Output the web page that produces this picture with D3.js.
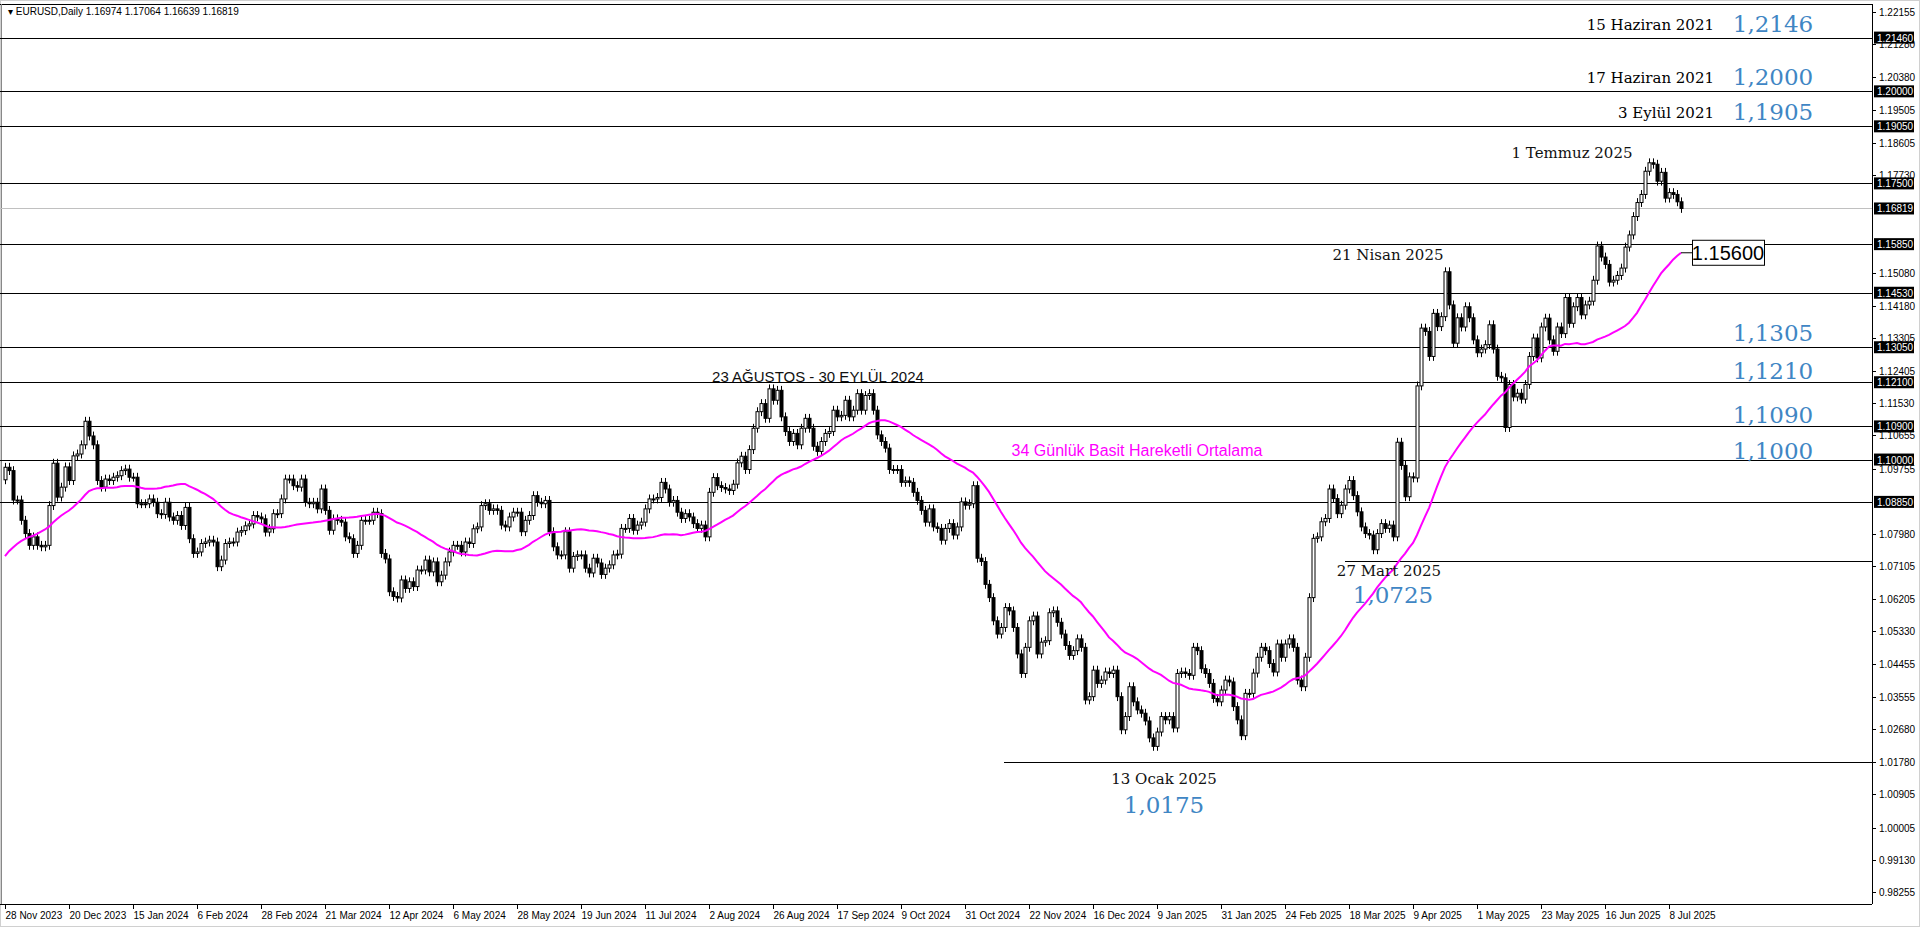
<!DOCTYPE html>
<html lang="tr">
<head>
<meta charset="utf-8">
<style>
  html, body { margin: 0; padding: 0; background: #fff; }
  svg { display: block; }
</style>
</head>
<body>
<svg id="chart" width="1920" height="927"></svg>
<script src="https://d3js.org/d3.v7.min.js"></script>
<script>
// daily closes (28 Nov 2023 .. 11 Jul 2025)
const closes2023_24a = [
  1.0979,1.0970,1.0890,1.0890,1.0835,1.0799,1.0767,1.0790,1.0767,1.0763,1.0767,1.0875,1.0990,1.0898,1.0925,1.0980,
  1.0943,1.1010,1.1015,1.1040,1.1104,1.1064,1.1040,1.0943,1.0925,1.0947,1.0943,1.0952,1.0956,1.0970,1.0974,1.0952,
  1.0952,1.0880,1.0880,1.0880,1.0893,1.0884,1.0853,1.0851,1.0884,1.0844,1.0835,1.0848,1.0821,1.0870,1.0785,1.0745,
  1.0749,1.0772,1.0776,1.0781,1.0776,1.0709,1.0727,1.0772,1.0776,1.0776,1.0803,1.0807,1.0820,1.0825,1.0848,1.0844,
  1.0839,1.0803,1.0812,1.0853,1.0853,1.0893,1.0947,1.0947,1.0929,1.0925,1.0947,1.0884,1.0880,1.0884,1.0866,1.0920,
  1.0862,1.0808,1.0839,1.0835,1.0830,1.0790,1.0785,1.0745,1.0767,1.0835,1.0835,1.0835,1.0857,1.0853,1.0745,1.0730,
  1.0641,1.0628,1.0624,1.0673,1.0650,1.0668,1.0655,1.0700,1.0700,1.0727,1.0695,1.0722,1.0668,1.0686,1.0722,1.0749,
  1.0767,1.0767,1.0749,1.0776,1.0772,1.0812,1.0817
];
const closes2024b = [
  1.0875,1.0880,1.0862,1.0866,1.0862,1.0822,1.0817,1.0844,1.0857,1.0857,1.0804,1.0835,1.0848,1.0902,1.0884,1.0880,
  1.0889,1.0804,1.0763,1.0741,1.0741,1.0804,1.0705,1.0737,1.0741,1.0741,1.0705,1.0692,1.0732,1.0719,1.0688,1.0705,
  1.0714,1.0741,1.0743,1.0813,1.0813,1.0840,1.0808,1.0822,1.0830,1.0866,1.0893,1.0893,1.0897,1.0938,1.0920,1.0884,
  1.0889,1.0857,1.0840,1.0853,1.0844,1.0826,1.0813,1.0822,1.0790,1.0911,1.0951,1.0929,1.0924,1.0920,1.0916,1.0933,
  1.0991,1.1009,1.0973,1.1027,1.1085,1.1130,1.1152,1.1112,1.1192,1.1161,1.1188,1.1116,1.1076,1.1049,1.1071,1.1040,
  1.1085,1.1112,1.1085,1.1036,1.1022,1.1049,1.1071,1.1076,1.1134,1.1116,1.1120,1.1161,1.1116,1.1134,1.1179,1.1134,
  1.1174,1.1179,1.1134,1.1067,1.1049,1.1031,1.0973,1.0973,1.0973,1.0938,1.0942,1.0938,1.0911,1.0889,1.0862,1.0830,
  1.0866,1.0817,1.0813,1.0781,1.0813,1.0826,1.0795,1.0817
];
const closes2024_25c = [
  1.0885,1.0876,1.0880,1.0929,1.0732,1.0723,1.0661,1.0625,1.0562,1.0526,1.0544,1.0598,1.0589,1.0544,1.0472,1.0419,
  1.0490,1.0562,1.0575,1.0472,1.0504,1.0508,1.0584,1.0589,1.0558,1.0526,1.0495,1.0468,1.0481,1.0513,1.0490,1.0347,
  1.0356,1.0428,1.0392,1.0401,1.0423,1.0419,1.0428,1.0356,1.0266,1.0302,1.0383,1.0342,1.0320,1.0311,1.0290,1.0244,
  1.0221,1.0260,1.0302,1.0293,1.0302,1.0271,1.0419,1.0423,1.0419,1.0414,1.0490,1.0481,1.0432,1.0419,1.0392,1.0351,
  1.0342,1.0374,1.0401,1.0396,1.0329,1.0293,1.0250,1.0365,1.0365,1.0420,1.0463,1.0490,1.0481,1.0446,1.0423,1.0499,
  1.0463,1.0499,1.0513,1.0490,1.0401,1.0383,1.0463,1.0625,1.0786,1.0790,1.0831,1.0840,1.0920,1.0894,1.0853,1.0876,
  1.0920,1.0943,1.0902,1.0858,1.0817,1.0799,1.0795,1.0755,1.0799,1.0826,1.0813,1.0822,1.0790
];
const closes2025d = [
  1.1047,1.0984,1.0899,1.0953,1.0950,1.1200,1.1357,1.1348,1.1280,1.1397,1.1361,1.1388,1.1510,1.1420,1.1316,1.1385,
  1.1360,1.1415,1.1385,1.1325,1.1290,1.1300,1.1312,1.1366,1.1300,1.1226,1.1222,1.1087,1.1204,1.1170,1.1180,1.1164,
  1.1204,1.1280,1.1330,1.1276,1.1360,1.1384,1.1325,1.1294,1.1360,1.1342,1.1440,1.1370,1.1415,1.1440,1.1393,1.1420,
  1.1430,1.1487,1.1580,1.1550,1.1530,1.1482,1.1487,1.1500,1.1520,1.1577,1.1610,1.1660,1.1698,1.1720,1.1783,1.1806,
  1.1802,1.1756,1.1780,1.1710,1.1725,1.1720,1.1700,1.1682
];
// closes before the visible window, only used to seed the 34-day average
const preCloses = [
  1.0510,1.0540,1.0570,1.0580,1.0590,1.0595,1.0665,1.0590,1.0565,1.0565,1.0610,1.0615,1.0570,1.0620,1.0730,1.0715,
  1.0700,1.0670,1.0690,1.0680,1.0700,1.0880,1.0850,1.0910,1.0915,1.0940,1.0935,1.0910,1.0895,1.0940,1.0950,1.0955,1.0945
];

const dateLabels = ["28 Nov 2023","20 Dec 2023","15 Jan 2024","6 Feb 2024","28 Feb 2024","21 Mar 2024","12 Apr 2024",
  "6 May 2024","28 May 2024","19 Jun 2024","11 Jul 2024","2 Aug 2024","26 Aug 2024","17 Sep 2024","9 Oct 2024",
  "31 Oct 2024","22 Nov 2024","16 Dec 2024","9 Jan 2025","31 Jan 2025","24 Feb 2025","18 Mar 2025","9 Apr 2025",
  "1 May 2025","23 May 2025","16 Jun 2025","8 Jul 2025"];
const priceTicks = [1.22155,1.21280,1.20380,1.19505,1.18605,1.17730,1.15080,1.14180,1.13305,1.12405,1.11530,1.10655,
  1.09755,1.07980,1.07105,1.06205,1.05330,1.04455,1.03555,1.02680,1.01780,1.00905,1.00005,0.99130,0.98255];
const levelLines = [1.2146,1.2000,1.1905,1.1750,1.1585,1.1453,1.1305,1.1210,1.1090,1.1000,1.0885];
const partialLines = [{v:1.0725, from:1345}, {v:1.0178, from:1004}];
const lastPrice = 1.16819;
const levelNotes = [
  {date:"15 Haziran 2021", val:"1,2146", p:1.2146},
  {date:"17 Haziran 2021", val:"1,2000", p:1.2000},
  {date:"3 Eylül 2021", val:"1,1905", p:1.1905}
];
const sideNotes = [{val:"1,1305", y:333},{val:"1,1210", y:371},{val:"1,1090", y:415},{val:"1,1000", y:451}];

const closes = [].concat(closes2023_24a, closes2024b, closes2024_25c, closes2025d);
const N = closes.length;
const allCloses = preCloses.concat(closes);
const data = closes.map((c, i) => {
  const o = allCloses[preCloses.length + i - 1];
  return {i: i, o: o, c: c, hi: Math.max(o, c), lo: Math.min(o, c)};
});
const sma = closes.map((c, i) => {
  const k = preCloses.length + i;
  return d3.mean(allCloses.slice(k - 33, k + 1));
});

const svg = d3.select("#chart");
const plotR = 1872, plotT = 4, plotB = 904;
const y = d3.scaleLinear().domain([0.98255, 1.22155]).range([892, 12]);
const x = d3.scaleLinear().domain([0, N - 1]).range([5, 5 + 4 * (N - 1)]);

// frame
svg.append("rect").attr("x", 0.5).attr("y", 0.5).attr("width", 1919).attr("height", 926)
  .attr("fill", "none").attr("stroke", "#d0d0d0");
svg.append("line").attr("x1", 0).attr("x2", plotR).attr("y1", plotT + 0.5).attr("y2", plotT + 0.5).attr("stroke", "#000");
svg.append("line").attr("x1", plotR + 0.5).attr("x2", plotR + 0.5).attr("y1", plotT).attr("y2", plotB).attr("stroke", "#000");
svg.append("line").attr("x1", 1.5).attr("x2", 1.5).attr("y1", plotT).attr("y2", plotB).attr("stroke", "#888");
svg.append("line").attr("x1", 0).attr("x2", plotR).attr("y1", plotB + 0.5).attr("y2", plotB + 0.5).attr("stroke", "#000");

// level lines
svg.selectAll(".lvl").data(levelLines).enter().append("line")
  .attr("x1", 0).attr("x2", plotR).attr("y1", d => Math.round(y(d)) + 0.5).attr("y2", d => Math.round(y(d)) + 0.5)
  .attr("stroke", "#000").attr("stroke-width", 1.2);
svg.selectAll(".plv").data(partialLines).enter().append("line")
  .attr("x1", d => d.from).attr("x2", plotR).attr("y1", d => Math.round(y(d.v)) + 0.5).attr("y2", d => Math.round(y(d.v)) + 0.5)
  .attr("stroke", "#000").attr("stroke-width", 1.2);
svg.append("line").attr("x1", 0).attr("x2", plotR)
  .attr("y1", Math.round(y(lastPrice)) + 0.5).attr("y2", Math.round(y(lastPrice)) + 0.5).attr("stroke", "#c0c0c0");

// price axis
const axisFont = "10px 'Liberation Sans', Arial, sans-serif";
const tg = svg.append("g");
priceTicks.forEach(p => {
  tg.append("line").attr("x1", plotR).attr("x2", plotR + 4).attr("y1", Math.round(y(p)) + 0.5).attr("y2", Math.round(y(p)) + 0.5).attr("stroke", "#000");
  tg.append("text").attr("x", plotR + 7).attr("y", y(p) + 4).style("font", axisFont).attr("fill", "#000")
    .text(p.toFixed(5));
});
levelLines.concat([lastPrice]).forEach(p => {
  const yy = y(p);
  tg.append("rect").attr("x", plotR + 2).attr("y", yy - 6).attr("width", 40).attr("height", 12).attr("fill", "#000");
  tg.append("text").attr("x", plotR + 5).attr("y", yy + 4).style("font", axisFont).attr("fill", "#fff")
    .text(p.toFixed(5));
});

// date axis
dateLabels.forEach((lab, k) => {
  const xx = Math.round(x(k * 16)) + 0.5;
  svg.append("line").attr("x1", xx).attr("x2", xx).attr("y1", plotB).attr("y2", plotB + 5).attr("stroke", "#000");
  svg.append("text").attr("x", xx).attr("y", plotB + 15).style("font", axisFont).attr("fill", "#000").text(lab);
});

// candles
const cg = svg.append("g");
const wick = 0.0012;
data.forEach(d => {
  const cx = Math.round(x(d.i)) + 0.5;
  cg.append("line").attr("x1", cx).attr("x2", cx).attr("y1", y(d.hi + wick)).attr("y2", y(d.lo - wick))
    .attr("stroke", "#000");
  const top = y(d.hi), bot = y(d.lo);
  cg.append("rect").attr("x", cx - 1.5).attr("y", top).attr("width", 3).attr("height", Math.max(1, bot - top))
    .attr("fill", d.c >= d.o ? "#fff" : "#000").attr("stroke", "#000").attr("stroke-width", 1);
});

// moving average
svg.append("path").datum(sma)
  .attr("d", d3.line().x((d, i) => x(i)).y(d => y(d)))
  .attr("fill", "none").attr("stroke", "#ff00ff").attr("stroke-width", 2);
const smaLastX = x(N - 1), smaLastY = y(sma[N - 1]);
svg.append("line").attr("x1", smaLastX).attr("x2", 1692).attr("y1", smaLastY).attr("y2", smaLastY).attr("stroke", "#000");
svg.append("rect").attr("x", 1692.5).attr("y", smaLastY - 12.5).attr("width", 72).attr("height", 25)
  .attr("fill", "#fff").attr("stroke", "#000");
svg.append("text").attr("x", 1728).attr("y", smaLastY + 7).attr("text-anchor", "middle")
  .style("font", "20px 'Liberation Sans', sans-serif").text("1.15600");

// header
svg.append("text").attr("x", 8).attr("y", 15).style("font", axisFont).text("▾ EURUSD,Daily  1.16974 1.17064 1.16639 1.16819");

// annotations
const serif = "'DejaVu Serif', serif";
const blue = "#3f86c4";
levelNotes.forEach(n => {
  svg.append("text").attr("x", 1714).attr("y", y(n.p) - 8).attr("text-anchor", "end")
    .style("font", "15px " + serif).text(n.date);
  svg.append("text").attr("x", 1773).attr("y", y(n.p) - 6).attr("text-anchor", "middle")
    .style("font", "23px " + serif).attr("fill", blue).text(n.val);
});
sideNotes.forEach(n => {
  svg.append("text").attr("x", 1773).attr("y", n.y + 8).attr("text-anchor", "middle")
    .style("font", "23px " + serif).attr("fill", blue).text(n.val);
});
const blackNotes = [
  {t:"1 Temmuz 2025", x:1572, y:158},
  {t:"21 Nisan 2025", x:1388, y:260},
  {t:"27 Mart 2025", x:1389, y:576},
  {t:"13 Ocak 2025", x:1164, y:784}
];
blackNotes.forEach(n => {
  svg.append("text").attr("x", n.x).attr("y", n.y).attr("text-anchor", "middle")
    .style("font", "15px " + serif).attr("fill", "#111").text(n.t);
});
svg.append("text").attr("x", 1393).attr("y", 603).attr("text-anchor", "middle")
  .style("font", "23px " + serif).attr("fill", blue).text("1,0725");
svg.append("text").attr("x", 1164).attr("y", 813).attr("text-anchor", "middle")
  .style("font", "23px " + serif).attr("fill", blue).text("1,0175");
svg.append("text").attr("x", 818).attr("y", 382).attr("text-anchor", "middle")
  .style("font", "15px 'Liberation Sans', sans-serif").attr("fill", "#111").text("23 AĞUSTOS - 30 EYLÜL 2024");
svg.append("text").attr("x", 1137).attr("y", 456).attr("text-anchor", "middle")
  .style("font", "16px 'Liberation Sans', sans-serif").attr("fill", "#ff00ff").text("34 Günlük Basit Hareketli Ortalama");
</script>
</body>
</html>
